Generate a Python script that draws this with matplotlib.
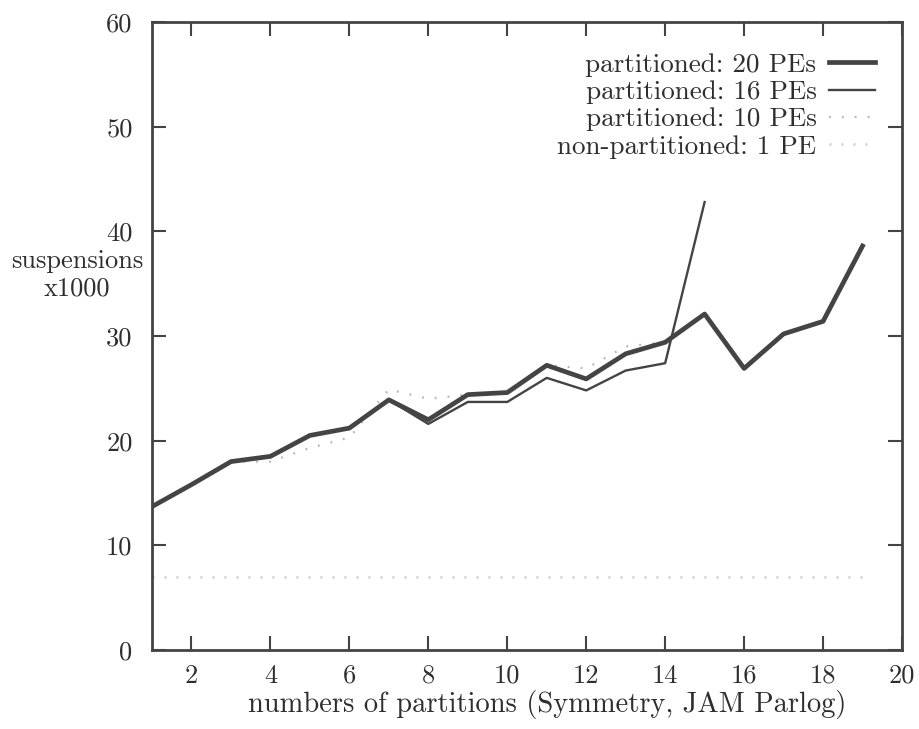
import matplotlib
matplotlib.use("Agg")
import matplotlib.pyplot as plt

plt.rcParams['font.family'] = ['cmr10', 'DejaVu Serif']
plt.rcParams['mathtext.fontset'] = 'cm'
plt.rcParams['axes.formatter.use_mathtext'] = True

# data (suspensions x1000 vs number of partitions)
x20 = list(range(1, 20))
pe20 = [13.7, 15.8, 18.0, 18.5, 20.5, 21.2, 23.9, 22.0, 24.4, 24.6,
        27.2, 25.9, 28.3, 29.4, 32.1, 26.9, 30.2, 31.4, 38.6]
x16 = list(range(1, 16))
pe16 = [13.7, 15.8, 18.0, 18.5, 20.5, 21.2, 23.9, 21.6, 23.7, 23.7,
        26.0, 24.8, 26.7, 27.4, 42.8]
x10 = list(range(1, 15))
pe10 = [13.7, 15.8, 18.0, 18.0, 19.3, 20.3, 24.9, 24.0, 24.4, 24.6,
        27.2, 26.9, 29.0, 29.4]
x1 = list(range(1, 20))
pe1 = [7.0] * 19

labels = ["partitioned: 20 PEs", "partitioned: 16 PEs",
          "partitioned: 10 PEs", "non-partitioned: 1 PE"]
xticks = [2, 4, 6, 8, 10, 12, 14, 16, 18, 20]
yticks = [0, 10, 20, 30, 40, 50, 60]

fig = plt.figure(figsize=(9.2, 7.29), dpi=100)
ax = fig.add_axes([152/920, 79/729, 750/920, 628/729])

dark = '#444444'
txt = '#2e2e2e'
ax.plot(x20, pe20, color=dark, lw=3.4, label=labels[0], zorder=4)
ax.plot(x16, pe16, color=dark, lw=1.7, label=labels[1], zorder=3)
ax.plot(x10, pe10, color='#b4b4b4', lw=1.6, linestyle=(0, (0.8, 5)), label=labels[2], zorder=2)
ax.plot(x1, pe1, color='#cccccc', lw=1.8, linestyle=(0, (0.8, 4)), label=labels[3], zorder=2)

ax.set_xlim(1, 20)
ax.set_ylim(0, 60)
ax.set_xticks(xticks)
ax.set_yticks(yticks)
ax.set_xticklabels([str(v) for v in xticks])
ax.set_yticklabels([str(v) for v in yticks])
ax.tick_params(direction='in', length=10, width=1.5, colors=dark, labelsize=19,
               top=True, right=True, labelcolor=txt)
ax.tick_params(axis='x', pad=10)
ax.tick_params(axis='y', pad=14)
for s in ax.spines.values():
    s.set_color(dark)
    s.set_linewidth(2.0)

ax.set_xlabel("numbers of partitions (Symmetry, JAM Parlog)", fontsize=20.5, color=txt)
ax.xaxis.set_label_coords(0.527, -0.064)
ax.text(-0.10, 0.597, "suspensions\nx1000", transform=ax.transAxes, ha='center',
        va='center', fontsize=19, color=txt, linespacing=1.2)

leg = ax.legend(loc='upper right', bbox_to_anchor=(0.978, 0.968), frameon=False,
                markerfirst=False, fontsize=19.5, handlelength=1.7, handletextpad=0.45,
                labelspacing=0.12, borderaxespad=0.0, alignment='right')
for t in leg.get_texts():
    t.set_color(txt)

fig.savefig("out.png", dpi=100)
